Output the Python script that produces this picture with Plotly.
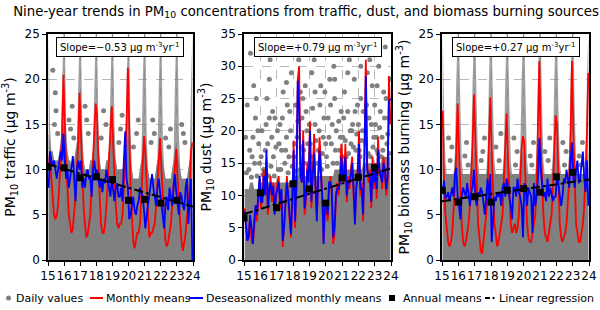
import plotly.graph_objects as go

# ---------------- data ----------------
years = [15, 16, 17, 18, 19, 20, 21, 22, 23]
month_x = [15 + (m + 0.5) / 12 for m in range(108)]
tick_vals = [15, 16, 17, 18, 19, 20, 21, 22, 23, 24]
tick_text = ["15", "16", "17", "18", "19", "20", "21", "22", "23", "24"]

# Traffic
traffic_monthly = [
    10, 12, 9, 7, 5, 4.5, 5, 6, 8, 11, 14, 20.5,
    15, 10, 8, 5, 4, 3, 3.5, 5, 7, 10, 13, 18.5,
    14, 9, 6, 4, 2.5, 2.8, 4, 5, 8, 11, 15, 17.3,
    16, 10, 7, 4, 3, 3, 4, 6, 9, 12, 14, 17,
    13, 9, 6, 4, 3.5, 4, 4, 5, 8, 12, 15, 21.3,
    14, 8, 5, 2, 1.3, 2, 3, 3, 4, 7, 10, 13.7,
    12, 8, 5, 2.5, 3, 3, 3.5, 4, 6, 9, 12, 13.5,
    10, 7, 4, 2, 1.5, 2, 3, 4, 6, 8, 11, 12.3,
    9, 6, 4, 2, 1, 2, 3, 5, 6, 8, 12, 13,
]
traffic_deseason = [
    8, 12, 11, 10.5, 11, 10, 9, 10, 11, 12, 11, 14,
    11, 9, 10, 8, 9, 10, 11.5, 9, 6.5, 10, 11, 10,
    11, 8, 9, 8, 9.5, 10, 9, 9, 7, 10, 11, 9.5,
    10, 9, 8, 9, 7.5, 9, 8.5, 10, 9, 8, 7, 9,
    8, 6.5, 8, 8.5, 7, 7, 8, 6.5, 11, 14.2, 9, 8,
    4.5, 5, 6, 7, 5.5, 5, 6, 6.5, 8, 7.5, 7, 5.5,
    3.5, 5, 6, 7, 8, 9.5, 8, 7, 6, 8, 9, 7.5,
    6, 5, 3.5, 6, 7, 5.5, 8, 7, 6, 8, 9.5, 7.5,
    6, 5, 7.5, 7, 6, 5.5, 8, 9, 4, 7, 9, 0,
]
traffic_annual = [10.3, 10.2, 9.1, 9.2, 8.9, 6.6, 6.7, 6.3, 6.6]
traffic_reg = [10.6, 5.9]
traffic_daily_dense = [
    14, 13, 12, 12, 11, 11, 11, 11, 12, 13, 14, 15,
    14, 13, 12, 11, 11, 10, 10, 11, 12, 13, 14, 15,
    14, 12, 11, 10, 10, 10, 10, 11, 11, 12, 13, 15,
    14, 12, 11, 10, 10, 10, 10, 11, 11, 12, 13, 14,
    13, 12, 11, 10, 10, 10, 10, 10, 11, 12, 13, 14,
    13, 11, 10, 9, 9, 9, 9, 9, 10, 11, 12, 13,
    12, 11, 10, 9, 9, 9, 9, 9, 10, 11, 12, 13,
    12, 11, 10, 9, 9, 9, 9, 9, 10, 11, 12, 13,
    12, 11, 10, 9, 9, 9, 9, 9, 10, 11, 12, 13,
]
traffic_daily_sparse = [
    25, 15, 12, 12, 11, 11, 11, 11, 12, 13, 19, 25,
    25, 15, 12, 11, 11, 10, 10, 11, 12, 13, 19, 25,
    25, 15, 11, 10, 10, 10, 10, 11, 11, 12, 19, 25,
    25, 15, 11, 10, 10, 10, 10, 11, 11, 12, 19, 25,
    25, 15, 11, 10, 10, 10, 10, 10, 11, 12, 19, 25,
    25, 14, 10, 9, 9, 9, 9, 9, 10, 11, 19, 25,
    25, 14, 10, 9, 9, 9, 9, 9, 10, 11, 19, 25,
    25, 14, 10, 9, 9, 9, 9, 9, 10, 11, 19, 25,
    25, 14, 10, 9, 9, 9, 9, 9, 10, 11, 19, 25,
]
traffic_out_x = [15.4, 15.5, 15.6, 15.3, 15.45, 16.4, 16.5, 16.3, 16.6, 17.5, 17.4, 17.3,
                 18.3, 18.6, 18.45, 19.4, 19.5, 19.6, 20.5, 20.3, 20.6, 21.4, 21.6, 21.5,
                 22.5, 22.3, 22.6, 23.5, 23.4, 23.3]
traffic_out_y = [15, 16.5, 14, 21, 18.5, 14.5, 17, 15.5, 13.5, 14, 15.5, 17,
                 13.5, 15, 16.5, 13, 14.5, 16, 14, 12.5, 15.5, 13, 14, 15.5,
                 12.5, 13.5, 14.5, 13, 14, 15]

# Dust
dust_monthly = [
    8, 6, 3, 4, 6.5, 3, 2.5, 5, 7, 6, 9, 12.5,
    8, 10, 14, 11, 15.5, 7, 10, 13, 9, 12, 8, 9.5,
    12, 13, 8, 10, 2, 6, 10, 13, 9, 6, 3.5, 9,
    18.5, 5, 12, 28, 30, 14, 12, 20, 7, 9, 15, 13,
    21.5, 8, 14, 19.5, 11, 7, 12, 19, 15, 9, 3, 8,
    8, 6, 11, 13, 10, 2.5, 4, 9, 12, 10, 13, 18,
    14, 12, 18, 9, 13, 11, 14, 16, 10, 6, 12, 14,
    20, 10, 12, 6, 17, 31, 15, 12, 14, 8, 16, 11,
    15, 9.5, 19, 13, 14, 11, 16, 13, 10, 12, 28.5, 21,
]
dust_deseason = [
    7.5, 5, 3, 3.5, 7, 5, 2.5, 6, 8.5, 7, 11, 13,
    9, 9, 13, 10, 17, 8, 11, 12, 10, 11.5, 7, 10,
    11, 12, 9, 11, 3, 5, 9, 12, 10, 7, 4, 10,
    17, 6, 11, 27.8, 24, 13, 12, 18.5, 8, 10, 14, 12,
    20, 9, 13, 16.5, 12, 6, 13, 17, 13, 10, 2.5, 9,
    9, 7, 12, 12, 11, 3.5, 5, 10, 11, 11, 12, 16,
    13, 13, 16, 10, 12, 12, 13, 15, 11, 5.5, 11, 13,
    18, 11, 11, 7, 16, 28.5, 14, 13, 13, 9, 14, 12,
    14, 11, 17, 14, 13, 12, 15, 14, 11, 13, 24.5, 25,
]
dust_annual = [6.5, 10.4, 8.1, 11.8, 11.0, 8.8, 12.7, 12.8, 14.3]
dust_reg = [7.1, 14.2]
dust_daily_dense = [
    11, 11, 11, 11, 12, 12, 12, 11, 11, 11, 11, 12,
    12, 12, 12, 12, 12, 12, 12, 12, 12, 12, 12, 12,
    12, 12, 12, 12, 12, 12, 12, 12, 12, 12, 12, 12,
    13, 13, 13, 13, 14, 14, 13, 13, 13, 13, 13, 13,
    13, 13, 13, 13, 13, 13, 13, 13, 13, 13, 13, 13,
    13, 13, 13, 13, 13, 13, 14, 14, 14, 14, 14, 14,
    14, 14, 14, 14, 14, 14, 14, 14, 14, 14, 14, 14,
    14, 14, 14, 15, 15, 15, 15, 15, 15, 15, 15, 15,
    15, 15, 15, 15, 15, 16, 16, 16, 16, 16, 16, 16,
]
dust_out_x = [
    15.3, 15.5, 15.7, 15.8, 15.9, 15.2, 15.6, 15.4, 15.95, 15.1,
    16.1, 16.2, 16.3, 16.4, 16.5, 16.6, 16.7, 16.8, 16.9, 16.55, 16.25,
    17.1, 17.2, 17.3, 17.4, 17.5, 17.6, 17.7, 17.8, 17.9, 17.45, 17.15,
    18.05, 18.15, 18.25, 18.35, 18.45, 18.55, 18.65, 18.75, 18.85, 18.95, 18.4, 18.6,
    19.05, 19.15, 19.25, 19.35, 19.45, 19.55, 19.65, 19.75, 19.85, 19.95, 19.3,
    20.05, 20.15, 20.25, 20.35, 20.45, 20.55, 20.65, 20.75, 20.85, 20.95, 20.5,
    21.05, 21.15, 21.25, 21.35, 21.45, 21.55, 21.65, 21.75, 21.85, 21.95, 21.3, 21.6,
    22.05, 22.15, 22.25, 22.35, 22.45, 22.55, 22.65, 22.75, 22.85, 22.95, 22.5, 22.7,
    23.05, 23.15, 23.25, 23.35, 23.45, 23.55, 23.65, 23.75, 23.85, 23.95, 23.4, 23.7,
    15.15, 15.35, 15.45, 15.65, 15.85, 16.05, 16.15, 16.35, 16.45, 16.65, 16.75, 16.85,
    16.95, 17.05, 17.25, 17.35, 17.55, 17.65, 17.75, 17.85, 17.95, 18.1, 18.2, 18.3,
    18.5, 18.7, 18.8, 18.9, 19.0, 19.1, 19.2, 19.4, 19.5, 19.6, 19.7, 19.8, 19.9,
    20.0, 20.1, 20.2, 20.3, 20.4, 20.6, 20.7, 20.8, 20.9, 21.0, 21.1, 21.2, 21.4,
    21.5, 21.7, 21.8, 21.9, 22.0, 22.1, 22.2, 22.3, 22.4, 22.6, 22.8, 22.9, 23.0,
    23.1, 23.2, 23.3, 23.5, 23.6, 23.8, 23.9, 15.55, 15.75, 16.55, 17.6, 18.45,
    19.35, 20.55, 21.35, 22.15, 23.15,
]
dust_out_y = [
    14, 16, 22, 13, 18, 24, 27, 32, 15, 19,
    20, 14, 17, 25, 13, 31, 19, 16, 22, 28, 33,
    14, 21, 17, 26, 15, 19, 13.5, 23, 29, 32, 18,
    16, 24, 19, 31, 14, 22, 17, 27, 20, 15, 34, 25,
    18, 29, 15, 21, 33, 17, 24, 14, 19, 26, 31,
    16, 22, 28, 18, 15, 25, 20, 32, 17, 23, 30,
    19, 26, 16, 23, 31, 18, 21, 28, 17, 24, 33, 20,
    17, 25, 20, 33, 18, 29, 22, 16, 27, 19, 24, 31,
    21, 17, 30, 23, 19, 26, 33, 18, 22, 28, 16, 25,
    13.5, 17, 12.8, 15, 20, 16, 13.2, 21, 18, 14.5, 23, 13,
    17.5, 20, 14, 22, 17, 24, 16, 20, 14.5, 18, 13.8, 21.5,
    17.5, 15, 23, 18, 21, 16, 23.5, 18.5, 15, 20, 27, 16.5, 22,
    18, 14.5, 19, 24, 21, 17, 15, 21.5, 19, 16, 22, 18.5, 16.5,
    20, 17.5, 23, 19.5, 21, 16, 18.5, 23, 20, 16.5, 21, 17.5, 24,
    19, 16.5, 20.5, 17, 22, 19.5, 16.5, 19, 25, 22, 27.5, 26,
    26, 28, 29, 30, 27,
]

# Biomass burning
bb_monthly = [
    16.5, 8, 5, 3, 2, 1.5, 2, 3, 5, 8, 12, 17.3,
    12, 7, 4, 2, 1.5, 2, 3, 4, 6, 9, 13, 18.3,
    13, 8, 4, 2.5, 1, 0.7, 2, 3, 5, 8, 12, 18,
    12, 7, 4, 3, 1.5, 2, 3, 4, 5, 9, 12, 16.2,
    11, 7, 4, 3, 3.5, 4, 3, 3.5, 5, 8, 12.5, 13.7,
    13, 8, 4, 2.5, 2, 2, 3, 4, 5, 8, 14, 22,
    13, 8, 5, 3, 2.5, 2, 3, 4, 5, 8, 12, 16,
    15, 8, 4, 2.5, 2, 2.5, 3, 4, 6, 9, 14, 22,
    14, 8, 4, 3, 2, 2, 3, 4, 6, 10, 14, 20.7,
]
bb_deseason = [
    7.5, 8.8, 6.8, 7, 7.5, 6.5, 7.2, 8, 7, 9.5, 10.2, 7,
    6, 4.5, 7, 8, 7.5, 7, 8.5, 7, 6, 7.5, 8.2, 10,
    7, 6, 7.5, 7, 8, 7.5, 6, 5, 7, 9, 6.5, 9.5,
    2, 5, 7, 6.5, 7.5, 7, 7.5, 6, 8, 8.5, 7, 9,
    8, 7.5, 6, 4.5, 8, 8, 7, 9, 7.5, 7, 6, 2.5,
    8.5, 8, 6, 8, 7.5, 7, 3, 8.5, 6, 7, 9, 13.5,
    10, 8, 7, 7.5, 6.5, 9, 7, 8, 7, 6.5, 7, 7,
    9.5, 8.5, 7.5, 6, 7, 9, 8.5, 10, 9, 8, 11, 13,
    9, 8, 10, 11, 8.5, 9, 10.5, 12, 9, 7.5, 11, 6,
]
bb_annual = [7.7, 6.4, 7.0, 6.4, 7.7, 7.9, 7.5, 9.2, 9.7]
bb_reg = [6.5, 8.9]
bb_daily_dense = [
    12, 10, 9.5, 9.5, 9.5, 9.5, 9.5, 9.5, 9.5, 10, 11, 12,
    12, 10, 9.5, 9.5, 9.5, 9.5, 9.5, 9.5, 9.5, 10, 11, 12,
    12, 10, 9.5, 9.5, 9.5, 9.5, 9.5, 9.5, 9.5, 10, 11, 12,
    12, 10, 9.5, 9.5, 9.5, 9.5, 9.5, 9.5, 9.5, 10, 11, 12,
    12, 10, 9.5, 9.5, 9.5, 9.5, 9.5, 9.5, 9.5, 10, 11, 12,
    12, 10, 9.5, 9.5, 9.5, 9.5, 9.5, 9.5, 9.5, 10, 11, 12,
    12, 10, 9.5, 9.5, 9.5, 9.5, 9.5, 9.5, 9.5, 10, 11, 12,
    12, 10, 9.5, 9.5, 9.5, 9.5, 9.5, 9.5, 9.5, 10, 11, 12,
    12, 10, 9.5, 9.5, 9.5, 9.5, 9.5, 9.5, 9.5, 10, 11, 12,
]
bb_daily_sparse = [
    25, 17, 11, 9.5, 9.5, 9.5, 9.5, 9.5, 9.5, 12, 20, 25,
    25, 17, 11, 9.5, 9.5, 9.5, 9.5, 9.5, 9.5, 12, 20, 25,
    25, 17, 11, 9.5, 9.5, 9.5, 9.5, 9.5, 9.5, 12, 20, 25,
    25, 17, 11, 9.5, 9.5, 9.5, 9.5, 9.5, 9.5, 12, 20, 25,
    25, 17, 11, 9.5, 9.5, 9.5, 9.5, 9.5, 9.5, 12, 20, 25,
    25, 17, 11, 9.5, 9.5, 9.5, 9.5, 9.5, 9.5, 12, 20, 25,
    25, 17, 11, 9.5, 9.5, 9.5, 9.5, 9.5, 9.5, 12, 20, 25,
    25, 17, 11, 9.5, 9.5, 9.5, 9.5, 9.5, 9.5, 12, 20, 25,
    25, 17, 11, 9.5, 9.5, 9.5, 9.5, 9.5, 9.5, 12, 20, 25,
]
bb_out_x = [15.5, 15.6, 15.4, 16.4, 16.6, 16.5, 17.5, 17.4, 17.6, 18.5, 18.3, 18.6,
            19.5, 19.6, 19.4, 20.4, 20.6, 20.5, 21.5, 21.3, 21.6, 22.5, 22.6, 22.4,
            23.4, 23.6, 23.5]
bb_out_y = [11, 12.5, 13.5, 11.5, 10.5, 13, 12, 11, 13.5, 11, 12.5, 14,
            10.5, 12, 13.5, 11.5, 13, 10.5, 11, 12, 13.5, 10.5, 12, 13,
            11.5, 13, 10.5]

slopes = ["\u22120.53", "+0.79", "+0.27"]
y_titles = ["PM<sub>10</sub> traffic (\u03bcg m<sup>-3</sup>)",
            "PM<sub>10</sub> dust (\u03bcg m<sup>-3</sup>)",
            "PM<sub>10</sub> biomass burning (\u03bcg m<sup>-3</sup>)"]
y_max = [25, 35, 25]
reg_x = [15, 24]

legend_labels = ["Daily values", "Monthly means", "Deseasonalized monthly means",
                 "Annual means", "Linear regression"]

# ---------------- figure ----------------
W, H = 600, 310
xdom_px = [(48, 193), (244, 391), (442, 589)]
ytop, ybot = 34, 260
ydom = [1 - ybot / H, 1 - ytop / H]

GRAY = "#808080"
panels = [
    dict(dense=traffic_daily_dense, sparse=traffic_daily_sparse, ox=traffic_out_x, oy=traffic_out_y,
         mon=traffic_monthly, des=traffic_deseason, ann=traffic_annual, reg=traffic_reg),
    dict(dense=dust_daily_dense, sparse=None, ox=dust_out_x, oy=dust_out_y,
         mon=dust_monthly, des=dust_deseason, ann=dust_annual, reg=dust_reg),
    dict(dense=bb_daily_dense, sparse=bb_daily_sparse, ox=bb_out_x, oy=bb_out_y,
         mon=bb_monthly, des=bb_deseason, ann=bb_annual, reg=bb_reg),
]

fig = go.Figure()
for i, p in enumerate(panels):
    xa = "x" if i == 0 else f"x{i+1}"
    ya = "y" if i == 0 else f"y{i+1}"
    if p["sparse"] is not None:
        fig.add_trace(go.Scatter(x=month_x, y=p["sparse"], mode="none", fill="tozeroy",
                                 fillcolor="rgba(128,128,128,0.75)", xaxis=xa, yaxis=ya,
                                 showlegend=False, hoverinfo="skip"))
    fig.add_trace(go.Scatter(x=month_x, y=p["dense"], mode="none", fill="tozeroy",
                             fillcolor=GRAY, xaxis=xa, yaxis=ya, showlegend=False, hoverinfo="skip"))
    fig.add_trace(go.Scatter(x=p["ox"], y=p["oy"], mode="markers",
                             marker=dict(color=GRAY, size=5), name=legend_labels[0],
                             xaxis=xa, yaxis=ya, showlegend=False))
    fig.add_trace(go.Scatter(x=month_x, y=p["mon"], mode="lines", line=dict(color="#ff0000", width=1.8),
                             name=legend_labels[1], xaxis=xa, yaxis=ya, showlegend=False))
    fig.add_trace(go.Scatter(x=month_x, y=p["des"], mode="lines", line=dict(color="#0000ff", width=1.8),
                             name=legend_labels[2], xaxis=xa, yaxis=ya, showlegend=False))
    fig.add_trace(go.Scatter(x=years, y=p["ann"], mode="markers",
                             marker=dict(color="black", size=7, symbol="square"),
                             name=legend_labels[3], xaxis=xa, yaxis=ya, showlegend=False))
    fig.add_trace(go.Scatter(x=reg_x, y=p["reg"], mode="lines",
                             line=dict(color="black", width=2, dash="dashdot"),
                             name=legend_labels[4], xaxis=xa, yaxis=ya, showlegend=False))

    x0, x1 = xdom_px[i]
    axis_common = dict(showline=True, linecolor="black", linewidth=1.5, mirror=True,
                       ticks="outside", ticklen=4, tickwidth=1.2, tickcolor="black",
                       showgrid=True, gridcolor="#b8b8b8", griddash="dash", gridwidth=0.8,
                       zeroline=False, automargin=False, tickfont=dict(size=12, color="black"))
    fig.layout[("xaxis" if i == 0 else f"xaxis{i+1}")] = dict(
        domain=[x0 / W, x1 / W], range=[15, 24], tickvals=tick_vals, ticktext=tick_text,
        tickangle=0, anchor=ya, **axis_common)
    fig.layout[("yaxis" if i == 0 else f"yaxis{i+1}")] = dict(
        domain=ydom, range=[0, y_max[i]], dtick=5, anchor=xa,
        title=dict(text=y_titles[i], font=dict(size=14, color="black"), standoff=6),
        **axis_common)
    fig.add_annotation(xref=f"{xa} domain", yref=f"{ya} domain", x=0.5, y=0.985,
                       xanchor="center", yanchor="top",
                       text=f"Slope={slopes[i]} \u03bcg m<sup>-3</sup>yr<sup>-1</sup>",
                       showarrow=False, font=dict(size=10, color="black"),
                       bgcolor="white", bordercolor="black", borderwidth=1, borderpad=3)

# ---- custom one-row legend (symbols as shapes, labels as text) ----
ly = 1 - 298 / H
def px(v):
    return v / W
fig.add_shape(type="circle", xref="paper", yref="paper",
              x0=px(6), x1=px(11), y0=ly - 2.5 / H, y1=ly + 2.5 / H,
              fillcolor=GRAY, line=dict(width=0))
fig.add_shape(type="line", xref="paper", yref="paper", x0=px(90), x1=px(103), y0=ly, y1=ly,
              line=dict(color="#ff0000", width=2))
fig.add_shape(type="line", xref="paper", yref="paper", x0=px(189), x1=px(203), y0=ly, y1=ly,
              line=dict(color="#0000ff", width=2))
fig.add_shape(type="rect", xref="paper", yref="paper",
              x0=px(389), x1=px(395), y0=ly - 3 / H, y1=ly + 3 / H,
              fillcolor="black", line=dict(width=0))
fig.add_shape(type="line", xref="paper", yref="paper", x0=px(485), x1=px(490), y0=ly, y1=ly,
              line=dict(color="black", width=2))
fig.add_shape(type="line", xref="paper", yref="paper", x0=px(492.5), x1=px(494.5), y0=ly, y1=ly,
              line=dict(color="black", width=2))
for lx, lab in zip([14, 104, 204, 401, 497], legend_labels):
    fig.add_annotation(xref="paper", yref="paper", x=px(lx), y=ly, xanchor="left", yanchor="middle",
                       text=lab, showarrow=False, font=dict(size=11, color="black"))

fig.update_layout(
    width=W, height=H, margin=dict(l=0, r=0, t=0, b=0),
    paper_bgcolor="white", plot_bgcolor="white",
    font=dict(family="DejaVu Sans", color="black"),
    showlegend=False,
    title=dict(text="Nine-year trends in PM<sub>10</sub> concentrations from traffic, dust, and biomass burning sources",
               x=0.51, xanchor="center", y=0.965, yanchor="middle", font=dict(size=13.3)),
)
fig.write_html("out.html", config={"displayModeBar": False},
               post_script="document.body.style.margin='0';document.body.style.padding='0';")
